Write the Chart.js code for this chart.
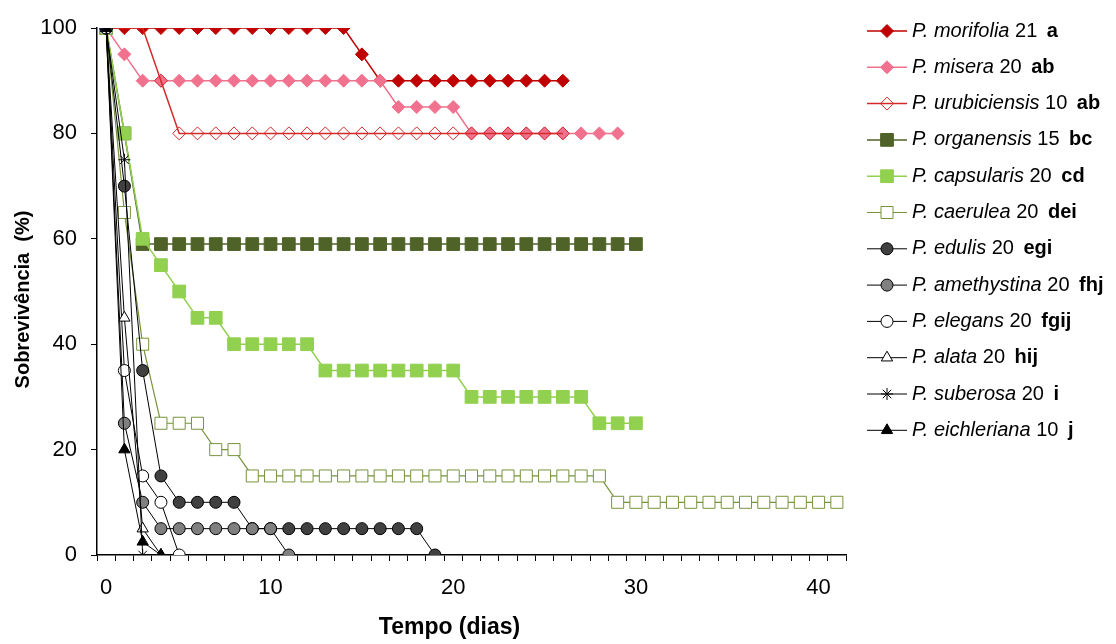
<!DOCTYPE html>
<html>
<head>
<meta charset="utf-8">
<script src="https://cdn.jsdelivr.net/npm/chart.js@4.4.1/dist/chart.umd.min.js"></script>
<style>
  html, body { margin: 0; padding: 0; background: #fff; }
  #wrap { width: 1116px; height: 644px; }
</style>
</head>
<body>
<div id="wrap"><canvas id="c" width="1116" height="644"></canvas></div>
<script>
// Observation days (one category per evaluation)
const days = [0, 2, 3, 4, 5, 6, 7, 8, 9, 10, 11, 12, 13, 14, 15, 16, 17, 18, 19, 20,
              21, 22, 23, 24, 25, 26, 27, 28, 29, 30, 31, 32, 33, 34, 35, 36, 37, 38, 39, 40, 41];

// Survival (%) per species, one value per observation day
const morifolia     = [100, 100, 100, 100, 100, 100, 100, 100, 100, 100, 100, 100, 100, 100, 95,
                       90, 90, 90, 90, 90, 90, 90, 90, 90, 90, 90];
const misera        = [100, 95, 90, 90, 90, 90, 90, 90, 90, 90, 90, 90, 90, 90, 90, 90,
                       85, 85, 85, 85, 80, 80, 80, 80, 80, 80, 80, 80, 80];
const urubiciensis  = [100, 100, 100, 90, 80, 80, 80, 80, 80, 80, 80, 80, 80, 80, 80, 80,
                       80, 80, 80, 80, 80, 80, 80, 80, 80, 80];
const organensis    = [100, 80, 59, 59, 59, 59, 59, 59, 59, 59, 59, 59, 59, 59, 59, 59,
                       59, 59, 59, 59, 59, 59, 59, 59, 59, 59, 59, 59, 59, 59];
const capsularis    = [100, 80, 60, 55, 50, 45, 45, 40, 40, 40, 40, 40, 35, 35, 35, 35,
                       35, 35, 35, 35, 30, 30, 30, 30, 30, 30, 30, 25, 25, 25];
const caerulea      = [100, 65, 40, 25, 25, 25, 20, 20, 15, 15, 15, 15, 15, 15, 15, 15,
                       15, 15, 15, 15, 15, 15, 15, 15, 15, 15, 15, 15, 10, 10, 10, 10,
                       10, 10, 10, 10, 10, 10, 10, 10, 10];
const edulis        = [100, 70, 35, 15, 10, 10, 10, 10, 5, 5, 5, 5, 5, 5, 5, 5, 5, 5, 0];
const amethystina   = [100, 25, 10, 5, 5, 5, 5, 5, 5, 5, 0];
const elegans       = [100, 35, 15, 10, 0];
const alata         = [100, 45, 5, 0];
const suberosa      = [100, 75, 0];
const eichleriana   = [100, 20, 2.5, 0];

// Legend text: species name, number of plants, statistical grouping
const speciesNames  = ['P. morifolia', 'P. misera', 'P. urubiciensis', 'P. organensis',
                       'P. capsularis', 'P. caerulea', 'P. edulis', 'P. amethystina',
                       'P. elegans', 'P. alata', 'P. suberosa', 'P. eichleriana'];
const plantCounts   = ['21', '20', '10', '15', '20', '20', '20', '20', '20', '20', '20', '10'];
const groupLetters  = ['a', 'ab', 'ab', 'bc', 'cd', 'dei', 'egi', 'fhj', 'fgij', 'hij', 'i', 'j'];

const yTicks = [0, 20, 40, 60, 80, 100];

const seriesValues = [morifolia, misera, urubiciensis, organensis, capsularis, caerulea,
                      edulis, amethystina, elegans, alata, suberosa, eichleriana];

// Line and marker appearance per species
const looks = [
  { line: '#C00000', fill: '#C00000', edge: '#C00000', shape: 'rectRot',  r: 6.5, lw: 1.5 },
  { line: '#F0728E', fill: '#F0728E', edge: '#F0728E', shape: 'rectRot',  r: 6.5, lw: 1.5 },
  { line: '#D42A2A', fill: 'rgba(255,255,255,0)', edge: '#D42A2A', shape: 'rectRot', r: 6.5, lw: 1.5 },
  { line: '#4F6228', fill: '#4F6228', edge: '#4F6228', shape: 'rect',     r: 9,   lw: 1.5 },
  { line: '#92D050', fill: '#92D050', edge: '#92D050', shape: 'rect',     r: 9,   lw: 1.5 },
  { line: '#77933C', fill: '#FFFFFF', edge: '#77933C', shape: 'rect',     r: 8.5, lw: 1.2 },
  { line: '#000000', fill: '#404040', edge: '#000000', shape: 'circle',   r: 6,   lw: 1 },
  { line: '#000000', fill: '#808080', edge: '#000000', shape: 'circle',   r: 6,   lw: 1 },
  { line: '#000000', fill: '#FFFFFF', edge: '#000000', shape: 'circle',   r: 6,   lw: 1 },
  { line: '#000000', fill: '#FFFFFF', edge: '#000000', shape: 'triangle', r: 6.5, lw: 1 },
  { line: '#000000', fill: '#000000', edge: '#000000', shape: 'star',     r: 6,   lw: 1 },
  { line: '#000000', fill: '#000000', edge: '#000000', shape: 'triangle', r: 6.5, lw: 1 }
];

const FONT = "'Liberation Sans', Arial, sans-serif";

// Legend with mixed italic / regular / bold text, drawn to the right of the plot
const speciesLegend = {
  id: 'speciesLegend',
  afterDraw(chart) {
    const ctx = chart.ctx;
    const area = chart.chartArea;
    const x0 = area.right + 21;
    const y0 = area.top + 3;
    const step = 36.3;
    chart.data.datasets.forEach((ds, i) => {
      const y = y0 + i * step;
      ctx.save();
      ctx.strokeStyle = ds.borderColor;
      ctx.lineWidth = ds.borderWidth;
      ctx.beginPath();
      ctx.moveTo(x0, y);
      ctx.lineTo(x0 + 40, y);
      ctx.stroke();
      ctx.fillStyle = ds.pointBackgroundColor;
      ctx.strokeStyle = ds.pointBorderColor;
      ctx.lineWidth = ds.pointBorderWidth;
      Chart.helpers.drawPoint(ctx, {
        pointStyle: ds.pointStyle, radius: ds.pointRadius, rotation: 0,
        borderWidth: ds.pointBorderWidth
      }, x0 + 20, y);
      ctx.fillStyle = '#000';
      ctx.textBaseline = 'middle';
      ctx.textAlign = 'left';
      let tx = x0 + 45;
      ctx.font = 'italic 20px ' + FONT;
      ctx.fillText(speciesNames[i], tx, y);
      tx += ctx.measureText(speciesNames[i] + ' ').width;
      ctx.font = '20px ' + FONT;
      ctx.fillText(plantCounts[i], tx, y);
      tx += ctx.measureText(plantCounts[i] + ' ').width + 4;
      ctx.font = 'bold 20px ' + FONT;
      ctx.fillText(groupLetters[i], tx, y);
      ctx.restore();
    });
  }
};

// Axis titles
const axisTitles = {
  id: 'axisTitles',
  afterDraw(chart) {
    const ctx = chart.ctx;
    const area = chart.chartArea;
    ctx.save();
    ctx.fillStyle = '#000';
    ctx.textAlign = 'center';
    ctx.textBaseline = 'middle';
    ctx.font = 'bold 23px ' + FONT;
    ctx.fillText('Tempo (dias)', (area.left + area.right) / 2 - 22, chart.height - 16);
    ctx.translate(23, (area.top + area.bottom) / 2 + 8);
    ctx.rotate(-Math.PI / 2);
    ctx.font = 'bold 20px ' + FONT;
    ctx.fillText('Sobrevivência  (%)', 0, 0);
    ctx.restore();
  }
};

new Chart(document.getElementById('c'), {
  type: 'line',
  data: {
    labels: days.map(String),
    datasets: seriesValues.map((vals, i) => ({
      label: speciesNames[i],
      data: vals,
      borderColor: looks[i].line,
      borderWidth: looks[i].lw,
      pointStyle: looks[i].shape,
      pointRadius: looks[i].r,
      pointHoverRadius: looks[i].r,
      pointBackgroundColor: looks[i].fill,
      pointBorderColor: looks[i].edge,
      pointBorderWidth: 1,
      tension: 0,
      fill: false,
      order: seriesValues.length - i
    }))
  },
  options: {
    responsive: false,
    animation: false,
    devicePixelRatio: 1,
    layout: { padding: { top: 28, right: 270, left: 0, bottom: 0 } },
    plugins: { legend: { display: false }, tooltip: { enabled: false } },
    scales: {
      x: {
        type: 'category',
        offset: true,
        grid: { offset: true, drawOnChartArea: false, drawTicks: true, tickLength: 6, color: '#000', lineWidth: 1 },
        border: { color: '#000', width: 1.5 },
        ticks: {
          autoSkip: false, maxRotation: 0, minRotation: 0, padding: 14,
          color: '#000', font: { family: FONT, size: 22 },
          callback: (v, i) => (days[i] % 10 === 0 ? String(days[i]) : '')
        },
        afterFit(scale) { scale.height = 89; }
      },
      y: {
        min: 0, max: 100,
        afterBuildTicks(scale) { scale.ticks = yTicks.map(v => ({ value: v })); },
        grid: { drawOnChartArea: false, drawTicks: true, tickLength: 6, color: '#000', lineWidth: 1 },
        border: { color: '#000', width: 1.5 },
        ticks: { padding: 14, color: '#000', font: { family: FONT, size: 22 } },
        afterFit(scale) { scale.width = 97; }
      }
    }
  },
  plugins: [speciesLegend, axisTitles]
});
</script>
</body>
</html>
